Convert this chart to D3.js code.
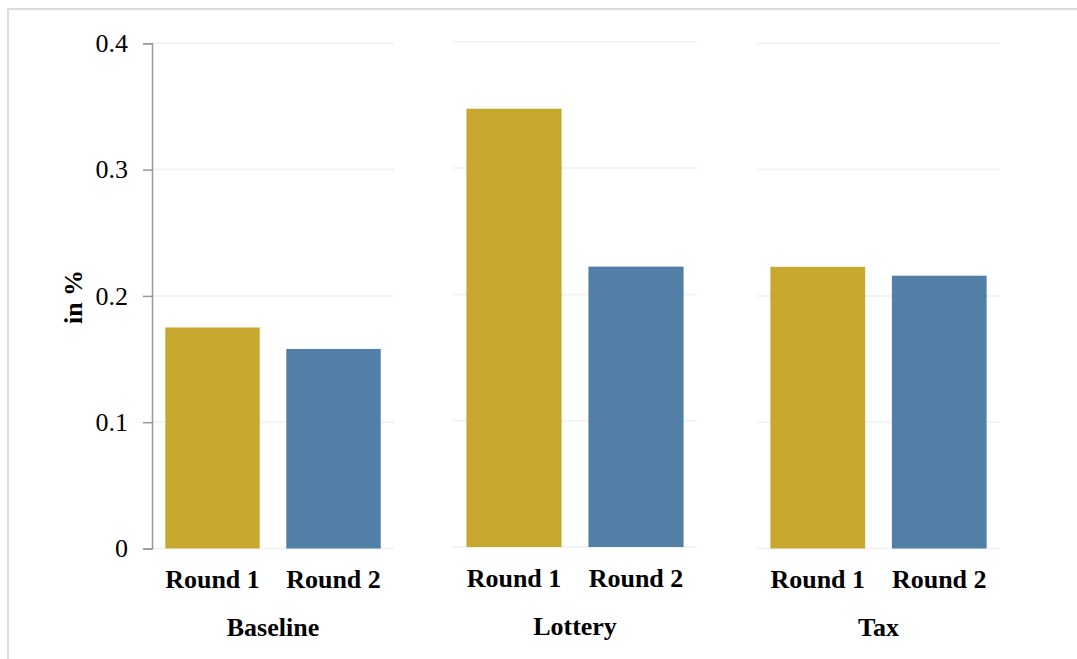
<!DOCTYPE html>
<html>
<head>
<meta charset="utf-8">
<script src="https://cdn.jsdelivr.net/npm/d3@7"></script>
<style>
  html, body { margin: 0; padding: 0; background: #fff; }
  svg { display: block; }
</style>
</head>
<body>
<svg id="chart" width="1077" height="659"></svg>
<script>
// ---- data ----
const groups = ["Baseline", "Lottery", "Tax"];
const rounds = ["Round 1", "Round 2"];
const round1Values = [0.175, 0.347, 0.223];
const round2Values = [0.158, 0.222, 0.216];
const yTicks = [0, 0.1, 0.2, 0.3, 0.4];
const yTickLabels = ["0", "0.1", "0.2", "0.3", "0.4"];
const colors = ["#C6A82F", "#517FA5"];

// ---- layout ----
const W = 1077, H = 659;
const panelX = [[152, 394], [453, 697], [757, 1000]];
const panelDy = [0, -1.5, 0];
const yRange = [548.5, 43.3];

const svg = d3.select("#chart");
const font = "'Liberation Serif', 'Times New Roman', serif";

// frame
svg.append("rect")
  .attr("x", 8).attr("y", 9).attr("width", W + 20).attr("height", H + 20)
  .attr("fill", "none").attr("stroke", "#dcdcdc").attr("stroke-width", 2);

const y = d3.scaleLinear().domain([0, 0.4]).range(yRange);

groups.forEach((g, gi) => {
  const vals = [round1Values[gi], round2Values[gi]];
  const x = d3.scaleBand().domain(rounds).range(panelX[gi])
    .paddingInner(0.22).paddingOuter(0.11);
  const p = svg.append("g").attr("transform", `translate(0,${panelDy[gi]})`);

  // gridlines
  p.append("g").selectAll("line").data(yTicks).join("line")
    .attr("x1", panelX[gi][0]).attr("x2", panelX[gi][1])
    .attr("y1", d => y(d)).attr("y2", d => y(d))
    .attr("stroke", "#f3f3f3").attr("stroke-width", 2);

  // bars
  p.append("g").selectAll("rect").data(rounds).join("rect")
    .attr("x", d => x(d))
    .attr("width", x.bandwidth())
    .attr("y", (d, i) => y(vals[i]))
    .attr("height", (d, i) => y(0) - y(vals[i]))
    .attr("fill", (d, i) => colors[i]);

  // round labels
  const xAxis = d3.axisBottom(x).tickSize(0).tickPadding(0);
  const xa = p.append("g").attr("transform", `translate(0,${y(0)})`).call(xAxis);
  xa.select(".domain").remove();
  xa.selectAll("text")
    .attr("y", 39.5).attr("dy", 0)
    .attr("font-family", font).attr("font-size", 26).attr("font-weight", "bold")
    .attr("fill", "#000");

  // group label
  p.append("text")
    .attr("x", (panelX[gi][0] + panelX[gi][1]) / 2)
    .attr("y", 636)
    .attr("text-anchor", "middle")
    .attr("font-family", font).attr("font-size", 26).attr("font-weight", "bold")
    .attr("fill", "#000")
    .text(g);

  if (gi === 0) {
    const yAxis = d3.axisLeft(y).tickValues(yTicks)
      .tickFormat((d, i) => yTickLabels[i]).tickSize(9).tickSizeOuter(9).tickPadding(15);
    const ya = p.append("g").attr("transform", `translate(${panelX[0][0]},0)`).call(yAxis);
    ya.select(".domain").attr("stroke", "#999").attr("stroke-width", 1.5);
    ya.selectAll(".tick line").attr("stroke", "#999").attr("stroke-width", 1.5);
    ya.selectAll("text")
      .attr("font-family", font).attr("font-size", 26).attr("fill", "#000")
      .attr("dy", "0.32em");
  }
});

// y label
svg.append("text")
  .attr("transform", "translate(82,297) rotate(-90)")
  .attr("text-anchor", "middle")
  .attr("font-family", font).attr("font-size", 26).attr("font-weight", "bold")
  .attr("fill", "#000")
  .text("in %");
</script>
</body>
</html>
